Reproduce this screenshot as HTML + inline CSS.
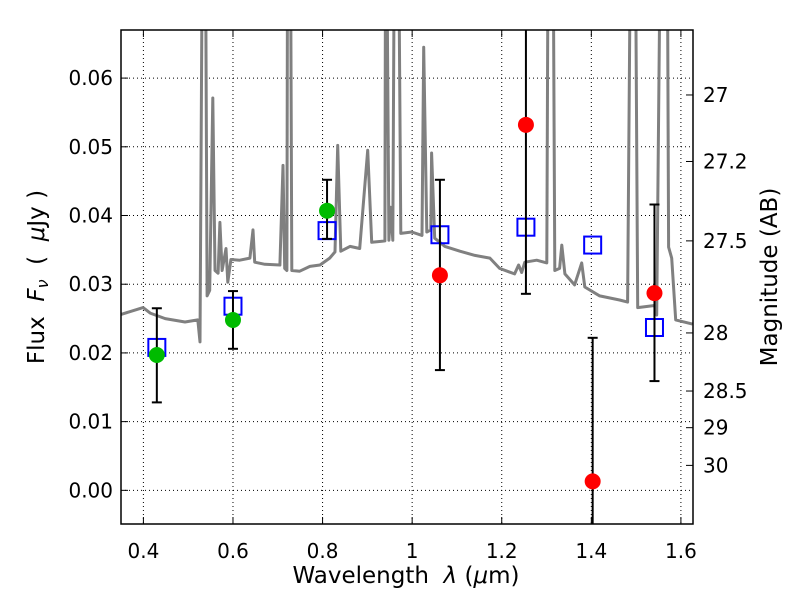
<!DOCTYPE html>
<html><head><meta charset="utf-8"><style>
body{margin:0;background:#fff}
svg text{font-family:"DejaVu Sans","Liberation Sans",sans-serif;fill:#000}
</style></head><body>
<svg id="chart" width="800" height="600" viewBox="0 0 800 600" xmlns="http://www.w3.org/2000/svg">
<defs><clipPath id="pc"><rect x="121" y="30" width="572" height="494"/></clipPath></defs>
<rect x="0" y="0" width="800" height="600" fill="#fff"/>
<g id="grid"></g>
<g id="spec" clip-path="url(#pc)"></g>
<g id="marks" clip-path="url(#pc)"></g>
<rect x="121" y="30" width="572" height="494" fill="none" stroke="#000" stroke-width="1.5"/>
<g id="axes"></g>
<text x="406" y="583" font-size="23" text-anchor="middle" xml:space="preserve">Wavelength  <tspan font-style="italic">λ</tspan> (<tspan font-style="italic">μ</tspan>m)</text>
<text transform="translate(44,277) rotate(-90)" font-size="23" text-anchor="middle" xml:space="preserve">Flux  <tspan font-style="italic">F</tspan><tspan font-style="italic" font-size="16" dy="4">ν</tspan><tspan dy="-4">  (  <tspan font-style="italic">μ</tspan>Jy )</tspan></text>
<text transform="translate(777,277) rotate(-90)" font-size="23" text-anchor="middle">Magnitude (AB)</text>
</svg>
<script>
const specWl=[0.3501,0.3993,0.4151,0.4486,0.4929,0.5215,0.5264,0.5333,0.5372,0.5422,0.5481,0.5550,0.5599,0.5668,0.5707,0.5757,0.5845,0.5885,0.5954,0.6150,0.6377,0.6446,0.6485,0.6712,0.7047,0.7116,0.7155,0.7204,0.7224,0.7273,0.7313,0.7490,0.7717,0.7943,0.8160,0.8278,0.8337,0.8406,0.8613,0.8830,0.9007,0.9096,0.9391,0.9411,0.9480,0.9519,0.9569,0.9618,0.9677,0.9746,0.9992,1.0219,1.0258,1.0327,1.0416,1.0435,1.0504,1.0731,1.1066,1.1401,1.1735,1.1952,1.2287,1.2376,1.2445,1.2514,1.2780,1.3006,1.3046,1.3134,1.3184,1.3292,1.3341,1.3410,1.3627,1.3785,1.3854,1.4188,1.4632,1.4809,1.4898,1.4967,1.5036,1.5410,1.5460,1.5568,1.5686,1.5726,1.5795,1.5883,1.6258];
const specFlux=[0.0256,0.0266,0.0258,0.0250,0.0245,0.0248,0.0216,0.10,0.10,0.0283,0.0291,0.0571,0.0320,0.0316,0.0390,0.0320,0.0352,0.0303,0.0336,0.0335,0.0338,0.0379,0.0332,0.0329,0.0328,0.0473,0.0323,0.0320,0.10,0.10,0.0320,0.0319,0.0326,0.0328,0.0338,0.0347,0.0502,0.0348,0.0355,0.0352,0.0495,0.0361,0.0363,0.10,0.0364,0.0412,0.0364,0.10,0.10,0.0374,0.0376,0.0371,0.0645,0.0376,0.0379,0.0491,0.0367,0.0355,0.0348,0.0342,0.0338,0.0323,0.0315,0.0328,0.0317,0.0332,0.0335,0.0331,0.10,0.10,0.0320,0.0323,0.0357,0.0315,0.0299,0.0331,0.0296,0.0283,0.0277,0.0274,0.10,0.10,0.0266,0.0269,0.0255,0.10,0.10,0.0354,0.0338,0.0248,0.0242];
const obsWl=[0.430,0.600,0.810,1.062,1.254,1.403,1.541];
const obsFlux=[0.0197,0.0248,0.0407,0.0313,0.0532,0.0013,0.0287];
const obsLo=[0.0128,0.0206,0.0366,0.0175,0.0286,-0.01,0.0159];
const obsHi=[0.0265,0.0290,0.0452,0.0452,0.09,0.0222,0.0416];
const obsColor=['#00bb00','#00bb00','#00bb00','#ff0000','#ff0000','#ff0000','#ff0000'];
const modelFlux=[0.0208,0.0268,0.0378,0.0372,0.0383,0.0357,0.0237];
const xTicks=[0.4,0.6,0.8,1.0,1.2,1.4,1.6];
const xTickLabels=['0.4','0.6','0.8','1','1.2','1.4','1.6'];
const yTicks=[0,0.01,0.02,0.03,0.04,0.05,0.06];
const yTickLabels=['0.00','0.01','0.02','0.03','0.04','0.05','0.06'];
const magTicks=[27,27.2,27.5,28,28.5,29,30];
const magTickLabels=['27','27.2','27.5','28','28.5','29','30'];

const X0=121,X1=693,Y0=30,Y1=524,xmin=0.35,xmax=1.627,ymin=-0.0049,ymax=0.0670;
const sx=v=>X0+(v-xmin)/(xmax-xmin)*(X1-X0);
const sy=v=>Y1-(v-ymin)/(ymax-ymin)*(Y1-Y0);
const NS='http://www.w3.org/2000/svg';
function mk(tag,attrs,parent){const e=document.createElementNS(NS,tag);for(const k in attrs)e.setAttribute(k,attrs[k]);parent.appendChild(e);return e;}
const grid=document.getElementById('grid'),axes=document.getElementById('axes'),spec=document.getElementById('spec'),marks=document.getElementById('marks');

xTicks.forEach((t,i)=>{const x=sx(t);
 const g=mk('line',{x1:x,x2:x,y1:Y0,y2:Y1,stroke:'#000','stroke-width':1,'stroke-dasharray':'1,3'},grid);
 
 
 mk('line',{x1:x,x2:x,y1:Y1,y2:Y1-7,stroke:'#000','stroke-width':1},axes);
 mk('line',{x1:x,x2:x,y1:Y0,y2:Y0+7,stroke:'#000','stroke-width':1},axes);
 const tx=mk('text',{x:x,y:Y1+34,'font-size':20,'text-anchor':'middle'},axes);tx.textContent=xTickLabels[i];
 
 
});
yTicks.forEach((t,i)=>{const y=sy(t);
 const g=mk('line',{x1:X0,x2:X1,y1:y,y2:y,stroke:'#000','stroke-width':1,'stroke-dasharray':'1,3'},grid);
 
 
 mk('line',{x1:X0,x2:X0+7,y1:y,y2:y,stroke:'#000','stroke-width':1},axes);
 const tx=mk('text',{x:X0-8,y:y+7,'font-size':20,'text-anchor':'end'},axes);tx.textContent=yTickLabels[i];
 
 
});
magTicks.forEach((m,i)=>{const f=Math.pow(10,(23.9-m)/2.5);const y=sy(f);
 mk('line',{x1:X1,x2:X1-7,y1:y,y2:y,stroke:'#000','stroke-width':1},axes);
 const tx=mk('text',{x:X1+10,y:y+7,'font-size':20,'text-anchor':'start'},axes);tx.textContent=magTickLabels[i];
 
 
});
const pts=specWl.map((w,i)=>sx(w).toFixed(1)+','+sy(specFlux[i]).toFixed(1)).join(' ');
const pl=mk('polyline',{points:pts,fill:'none',stroke:'#808080','stroke-width':3,'stroke-linejoin':'round'},spec);


obsWl.forEach((w,i)=>{const x=sx(w);
 const sq=mk('rect',{x:x-8.5,y:sy(modelFlux[i])-8.5,width:17,height:17,fill:'none',stroke:'#0000ff','stroke-width':2},marks);
 
 
 const eb=mk('g',{},marks);
 
 
 mk('line',{x1:x,x2:x,y1:sy(obsLo[i]),y2:sy(obsHi[i]),stroke:'#000','stroke-width':2},eb);
 mk('line',{x1:x-5,x2:x+5,y1:sy(obsLo[i]),y2:sy(obsLo[i]),stroke:'#000','stroke-width':2},eb);
 mk('line',{x1:x-5,x2:x+5,y1:sy(obsHi[i]),y2:sy(obsHi[i]),stroke:'#000','stroke-width':2},eb);
 const c=mk('circle',{cx:x,cy:sy(obsFlux[i]),r:8,fill:obsColor[i]},marks);
 
 
});
</script>
</body></html>
